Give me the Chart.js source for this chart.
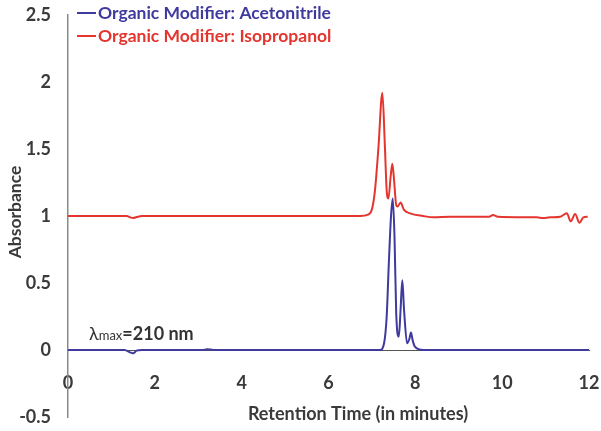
<!DOCTYPE html>
<html lang="en">
<head>
  <meta charset="UTF-8">
  <title>Absorbance vs Retention Time</title>
  <script src="https://cdn.jsdelivr.net/npm/chart.js"></script>
  <style>
    * { box-sizing: border-box; }
    body { margin: 0; background: #ffffff; }
    .wrap { width: 601px; height: 431px; position: relative; }
  </style>
</head>
<body>
  <div class="wrap"><canvas id="grafico"></canvas></div>

  <script>
    // series
    const timeBlue = [0, 1.3, 1.45, 1.5, 1.58, 1.7, 3.1, 3.2, 3.35, 7.1, 7.19, 7.28, 7.34, 7.39, 7.44, 7.48, 7.52, 7.56, 7.62, 7.66, 7.70, 7.74, 7.81, 7.86, 7.90, 7.94, 7.99, 8.18, 12];
    const absBlue  = [0, 0, -0.02, -0.025, -0.005, 0, 0, 0.006, 0, 0, 0, 0.05, 0.25, 0.65, 1.0, 1.13, 0.85, 0.27, 0.10, 0.3, 0.52, 0.3, 0.05, 0.08, 0.13, 0.07, 0.025, 0, 0];

    const timeRed = [0, 1.35, 1.45, 1.5, 1.58, 1.7, 6.73, 6.91, 7.0, 7.07, 7.15, 7.24, 7.30, 7.34, 7.38, 7.43, 7.47, 7.51, 7.56, 7.59, 7.66, 7.74, 7.88, 8.18, 8.41, 8.8, 9.7, 9.79, 9.9, 10.8, 10.94, 11.1, 11.34, 11.49, 11.58, 11.68, 11.78, 11.87, 11.97];
    const absRed  = [1.0, 1.0, 0.988, 0.985, 0.992, 1.0, 1.0, 1.01, 1.05, 1.19, 1.51, 1.92, 1.51, 1.19, 1.13, 1.29, 1.39, 1.27, 1.08, 1.07, 1.10, 1.045, 1.02, 1.0, 0.99, 0.995, 0.995, 1.008, 0.995, 0.99, 0.985, 0.99, 0.995, 1.02, 0.96, 1.015, 0.95, 0.99, 0.995];

    const seriesNames = ['Organic Modifier: Acetonitrile', 'Organic Modifier: Isopropanol'];
    const xTicks = [0, 2, 4, 6, 8, 10, 12];
    const yTicks = [-0.5, 0, 0.5, 1, 1.5, 2, 2.5];

    const azul = '#3f3a9e';
    const vermelho = '#e5352f';
    const fonte = 'Lato, "Open Sans", sans-serif';

    function pontos(xs, ys) {
      return xs.map((x, i) => ({ x: x, y: ys[i] }));
    }

    // legend, annotation and axis titles
    const textos = {
      id: 'textos',
      afterDraw(chart) {
        const ctx = chart.ctx;
        ctx.save();
        const linhas = [[azul, 13], [vermelho, 36]];
        linhas.forEach((l, i) => {
          ctx.strokeStyle = l[0];
          ctx.lineWidth = 2;
          ctx.beginPath();
          ctx.moveTo(77, l[1]);
          ctx.lineTo(96, l[1]);
          ctx.stroke();
          ctx.fillStyle = l[0];
          ctx.font = 'bold 17.5px ' + fonte;
          ctx.textBaseline = 'middle';
          ctx.textAlign = 'left';
          ctx.fillText(seriesNames[i], 98, l[1]);
        });

        ctx.fillStyle = '#333';
        ctx.textBaseline = 'alphabetic';
        ctx.font = '18px ' + fonte;
        ctx.fillText('λ', 89, 340);
        let x = 89 + ctx.measureText('λ').width;
        ctx.font = '13px ' + fonte;
        ctx.fillText('max', x, 340);
        x += ctx.measureText('max').width;
        ctx.font = 'bold 18px ' + fonte;
        ctx.fillText('=210 nm', x, 340);

        ctx.fillStyle = '#3a3a3a';
        ctx.textAlign = 'center';
        ctx.textBaseline = 'middle';
        ctx.font = 'bold 18px ' + fonte;
        ctx.fillText('Retention Time (in minutes)', 358, 414);

        ctx.translate(15, 212);
        ctx.rotate(-Math.PI / 2);
        ctx.font = 'bold 17.5px ' + fonte;
        ctx.fillText('Absorbance', 0, 0);
        ctx.restore();
      }
    };

    new Chart(document.getElementById('grafico'), {
      type: 'scatter',
      data: {
        datasets: [{
          label: seriesNames[0],
          data: pontos(timeBlue, absBlue),
          borderColor: azul,
          borderWidth: 2,
          showLine: true,
          pointRadius: 0,
          cubicInterpolationMode: 'monotone'
        }, {
          label: seriesNames[1],
          data: pontos(timeRed, absRed),
          borderColor: vermelho,
          borderWidth: 2,
          showLine: true,
          pointRadius: 0,
          cubicInterpolationMode: 'monotone'
        }]
      },
      options: {
        responsive: true,
        maintainAspectRatio: false,
        animation: false,
        layout: { padding: { top: 15, right: 12, bottom: 14, left: 0 } },
        plugins: {
          legend: { display: false },
          tooltip: { enabled: false }
        },
        scales: {
          x: {
            type: 'linear',
            position: { y: 0 },
            min: 0,
            max: 12,
            afterBuildTicks: (s) => { s.ticks = xTicks.map(v => ({ value: v })); },
            afterFit: (s) => { s.paddingLeft = 0; s.paddingRight = 0; },
            grid: { display: false, drawTicks: false },
            border: { display: true, color: '#555', width: 1 },
            ticks: {
              color: '#3a3a3a',
              padding: 22,
              font: { family: fonte, size: 18, weight: 'bold' }
            }
          },
          y: {
            min: -0.5,
            max: 2.5,
            afterBuildTicks: (s) => { s.ticks = yTicks.map(v => ({ value: v })); },
            afterFit: (s) => { s.width = 68; s.paddingTop = 0; s.paddingBottom = 0; },
            grid: { display: false, drawTicks: false },
            border: { display: true, color: '#8a8a8a', width: 1.5 },
            ticks: {
              color: '#3a3a3a',
              padding: 17,
              callback: (v) => String(v),
              font: { family: fonte, size: 18, weight: 'bold' }
            }
          }
        }
      },
      plugins: [textos]
    });
  </script>
</body>
</html>
